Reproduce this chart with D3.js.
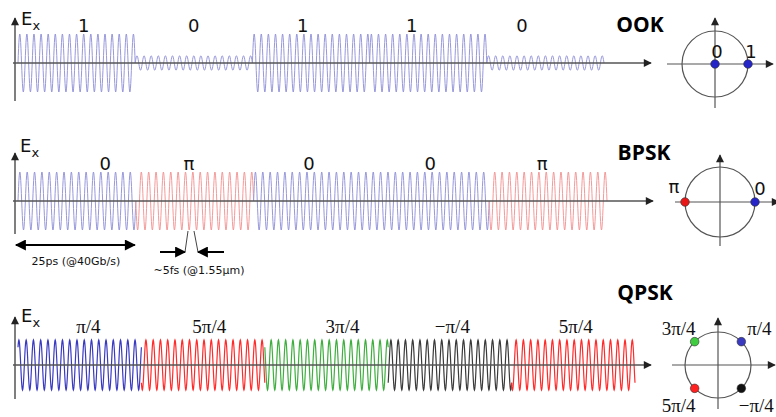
<!DOCTYPE html>
<html>
<head>
<meta charset="utf-8">
<script src="https://cdn.jsdelivr.net/npm/d3@7/dist/d3.min.js"></script>
<style>
  body { margin: 0; background: #fff; }
  svg { display: block; }
</style>
</head>
<body>
<div id="chart"></div>
<script>
// bit / symbol data
var ookLabels = ["1", "0", "1", "1", "0"];
var ookAmps = [1, 0.25, 1, 1, 0.25];
var bpskLabels = ["0", "π", "0", "0", "π"];
var bpskPhases = [0, 180, 0, 0, 180];
var qpskLabels = ["π/4", "5π/4", "3π/4", "−π/4", "5π/4"];
var qpskPhases = [45, 225, 135, -45, 225];

// constellation points (amplitude, phase in degrees)
var ookPoints = [{label: "0", amp: 0, phase: 0}, {label: "1", amp: 1, phase: 0}];
var bpskPoints = [{label: "π", amp: 1, phase: 180}, {label: "0", amp: 1, phase: 0}];
var qpskPoints = [
    {label: "π/4", amp: 1, phase: 45},
    {label: "3π/4", amp: 1, phase: 135},
    {label: "5π/4", amp: 1, phase: 225},
    {label: "−π/4", amp: 1, phase: -45}
];

var width = 776, height = 417;

var svg = d3.select("#chart").append("svg")
    .attr("width", width)
    .attr("height", height);

var defs = svg.append("defs");
function marker(id, color, w, h) {
    defs.append("marker")
        .attr("id", id)
        .attr("viewBox", "0 0 10 10")
        .attr("refX", 9).attr("refY", 5)
        .attr("markerWidth", w).attr("markerHeight", h)
        .attr("markerUnits", "userSpaceOnUse")
        .attr("orient", "auto-start-reverse")
        .append("path")
        .attr("d", "M0,0 L10,5 L0,10 Z")
        .attr("fill", color);
}
marker("arr", "#222", 9, 8);
marker("arrBig", "#000", 13, 11);

var axisColor = "#555";

function drawRow(opt) {
    var g = svg.append("g");
    var x = d3.scaleLinear().domain([0, opt.labels.length]).range([opt.x0, opt.x1]);
    var y = d3.scaleLinear().domain([-1, 1]).range([opt.cy + opt.amp, opt.cy - opt.amp]);

    var line = d3.line()
        .x(function(d) { return x(d.t); })
        .y(function(d) { return y(d.v); });

    opt.labels.forEach(function(lab, i) {
        var a = opt.amps ? opt.amps[i] : 1;
        var ph = (opt.phases ? opt.phases[i] : 0) * Math.PI / 180;
        var n = opt.cycles * 24;
        var pts = d3.range(n + 1).map(function(k) {
            var t = i + k / n;
            return {t: t, v: a * Math.sin(2 * Math.PI * opt.cycles * (t - i) + ph)};
        });
        g.append("path")
            .attr("d", line(pts))
            .attr("fill", "none")
            .attr("stroke", opt.color(i))
            .attr("stroke-width", opt.strokeWidth);

        g.append("text")
            .attr("x", x(opt.labelPos[i]))
            .attr("y", opt.labelY)
            .attr("text-anchor", "middle")
            .style("font-family", opt.labelFont)
            .style("font-size", opt.labelSize + "px")
            .attr("fill", "#111")
            .text(lab);
    });

    // axes
    g.append("line")
        .attr("x1", 13).attr("x2", opt.arrowEnd)
        .attr("y1", opt.cy).attr("y2", opt.cy)
        .attr("stroke", axisColor).attr("stroke-width", 1.5)
        .attr("marker-end", "url(#arr)");
    g.append("line")
        .attr("x1", 15).attr("x2", 15)
        .attr("y1", opt.axisBottom).attr("y2", opt.axisTop)
        .attr("stroke", axisColor).attr("stroke-width", 1.5)
        .attr("marker-end", "url(#arr)");

    var ex = g.append("text")
        .attr("x", opt.exX).attr("y", opt.exY)
        .style("font-family", "DejaVu Sans, sans-serif")
        .style("font-size", "18px")
        .attr("fill", "#111");
    ex.append("tspan").text("E");
    ex.append("tspan").attr("dy", 5).style("font-size", "13px").text("x");

    g.append("text")
        .attr("x", opt.titleX).attr("y", opt.titleY)
        .attr("text-anchor", "middle")
        .style("font-family", "Open Sans, sans-serif")
        .style("font-weight", "bold")
        .style("font-size", "21px")
        .attr("fill", "#000")
        .text(opt.title);

    return x;
}

function drawConstellation(opt) {
    var g = svg.append("g");
    var r = opt.r;
    var s = d3.scaleLinear().domain([-1, 1]).range([-r, r]);
    g.append("circle")
        .attr("cx", opt.cx).attr("cy", opt.cy).attr("r", r)
        .attr("fill", "none").attr("stroke", "#555").attr("stroke-width", 1.2);
    g.append("line")
        .attr("x1", opt.hx0).attr("x2", opt.hx1)
        .attr("y1", opt.cy).attr("y2", opt.cy)
        .attr("stroke", "#555").attr("stroke-width", 1.2)
        .attr("marker-end", "url(#arr)");
    g.append("line")
        .attr("x1", opt.cx).attr("x2", opt.cx)
        .attr("y1", opt.vy1).attr("y2", opt.vy0)
        .attr("stroke", "#555").attr("stroke-width", 1.2)
        .attr("marker-end", "url(#arr)");

    opt.points.forEach(function(p, i) {
        var a = p.phase * Math.PI / 180;
        var px = opt.cx + s(p.amp * Math.cos(a));
        var py = opt.cy - s(p.amp * Math.sin(a));
        g.append("circle")
            .attr("cx", px).attr("cy", py).attr("r", 4.3)
            .attr("fill", opt.color(p))
            .attr("stroke", "#333").attr("stroke-width", 0.6);
        var off = opt.offsets[i];
        g.append("text")
            .attr("x", px + off[0]).attr("y", py + off[1])
            .attr("text-anchor", "middle")
            .style("font-family", opt.font)
            .style("font-size", opt.size + "px")
            .attr("fill", "#111")
            .text(p.label);
    });
}

// OOK row
drawRow({
    labels: ookLabels, amps: ookAmps, phases: null,
    x0: 18, x1: 604, cy: 63, amp: 29, cycles: 16.5,
    axisTop: 18, axisBottom: 101, arrowEnd: 651,
    color: function() { return "#9898dc"; }, strokeWidth: 1,
    labelPos: [0.56, 1.5, 2.43, 3.36, 4.3], labelY: 32,
    labelFont: "DejaVu Sans, sans-serif", labelSize: 18,
    exX: 21, exY: 25, title: "OOK", titleX: 640, titleY: 32
});
drawConstellation({
    cx: 715, cy: 64, r: 33, hx0: 667, hx1: 773, vy0: 18, vy1: 108,
    points: ookPoints,
    color: function() { return "#2525c8"; },
    offsets: [[2, -6], [3, -6]],
    font: "DejaVu Sans, sans-serif", size: 18
});

// BPSK row
var xb = drawRow({
    labels: bpskLabels, amps: null, phases: bpskPhases,
    x0: 18, x1: 607, cy: 201, amp: 29, cycles: 16,
    axisTop: 153, axisBottom: 234, arrowEnd: 653,
    color: function(i) { return bpskPhases[i] === 0 ? "#9898dc" : "#f49a9a"; }, strokeWidth: 1,
    labelPos: [0.74, 1.45, 2.47, 3.5, 4.45], labelY: 170,
    labelFont: "DejaVu Sans, sans-serif", labelSize: 18,
    exX: 20, exY: 152, title: "BPSK", titleX: 644, titleY: 160
});
drawConstellation({
    cx: 720, cy: 202, r: 35, hx0: 675, hx1: 779, vy0: 155, vy1: 246,
    points: bpskPoints,
    color: function(p) { return p.phase === 180 ? "#e81818" : "#2525c8"; },
    offsets: [[-11, -9], [5, -7]],
    font: "DejaVu Sans, sans-serif", size: 18
});

// BPSK annotations: bit period and carrier period
svg.append("line")
    .attr("x1", xb(0) - 2).attr("x2", xb(1) - 1)
    .attr("y1", 245).attr("y2", 245)
    .attr("stroke", "#000").attr("stroke-width", 2)
    .attr("marker-start", "url(#arrBig)")
    .attr("marker-end", "url(#arrBig)");
svg.append("text")
    .attr("x", (xb(0) + xb(1)) / 2 - 1).attr("y", 265)
    .attr("text-anchor", "middle")
    .style("font-family", "DejaVu Sans, sans-serif")
    .style("font-size", "11px")
    .attr("fill", "#111")
    .text("25ps (@40Gb/s)");

var pL = 185, pR = 198, pY = 252;
svg.append("line")
    .attr("x1", 160).attr("x2", pL).attr("y1", pY).attr("y2", pY)
    .attr("stroke", "#000").attr("stroke-width", 2)
    .attr("marker-end", "url(#arrBig)");
svg.append("line")
    .attr("x1", 224).attr("x2", pR).attr("y1", pY).attr("y2", pY)
    .attr("stroke", "#000").attr("stroke-width", 2)
    .attr("marker-end", "url(#arrBig)");
svg.append("line")
    .attr("x1", pL).attr("x2", pL + 3).attr("y1", pY).attr("y2", 231)
    .attr("stroke", "#444").attr("stroke-width", 1);
svg.append("line")
    .attr("x1", pR).attr("x2", pR - 4).attr("y1", pY).attr("y2", 231)
    .attr("stroke", "#444").attr("stroke-width", 1);
svg.append("text")
    .attr("x", 199).attr("y", 274)
    .attr("text-anchor", "middle")
    .style("font-family", "DejaVu Sans, sans-serif")
    .style("font-size", "11px")
    .attr("fill", "#111")
    .text("~5fs (@1.55µm)");

// QPSK row
var qpskColor = {"45": "#3a3ac0", "225": "#ff2b2b", "135": "#3fae3f", "-45": "#3a3a3a"};
drawRow({
    labels: qpskLabels, amps: null, phases: qpskPhases,
    x0: 18, x1: 635, cy: 365, amp: 25, cycles: 17,
    axisTop: 317, axisBottom: 399, arrowEnd: 651,
    color: function(i) { return qpskColor[qpskPhases[i]]; }, strokeWidth: 1.2,
    labelPos: [0.57, 1.55, 2.63, 3.52, 4.52], labelY: 333,
    labelFont: "Liberation Serif, serif", labelSize: 19,
    exX: 21, exY: 322, title: "QPSK", titleX: 645, titleY: 300
});
drawConstellation({
    cx: 718, cy: 365, r: 33, hx0: 672, hx1: 775, vy0: 318, vy1: 409,
    points: qpskPoints,
    color: function(p) { return {"45": "#3a3ac0", "135": "#3fcc3f", "225": "#ff2020", "-45": "#111"}[p.phase]; },
    offsets: [[18, -7], [-16, -7], [-16, 24], [15, 24]],
    font: "Liberation Serif, serif", size: 19
});
</script>
</body>
</html>
